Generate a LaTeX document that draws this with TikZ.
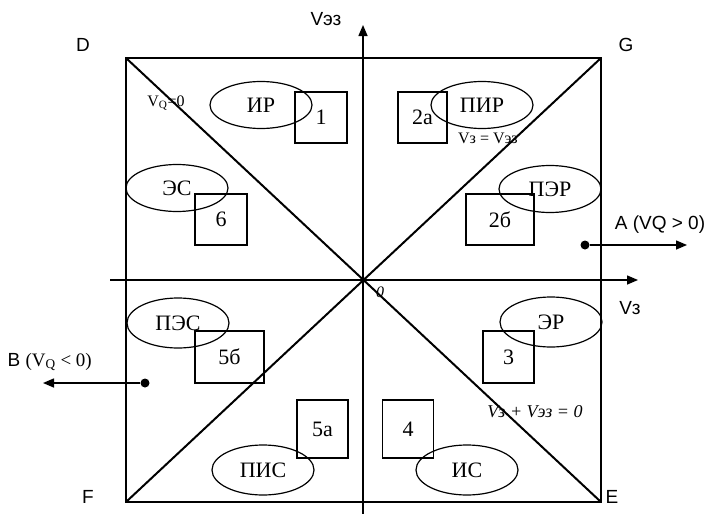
\documentclass[tikz,border=0pt]{standalone}
\usepackage{fontspec}
\setmainfont{Liberation Serif}
\newfontfamily\arialfont{Liberation Sans}
\usetikzlibrary{arrows.meta,shapes.geometric,positioning}

\begin{document}
\begin{tikzpicture}[x=1pt, y=-1pt,
  font=\fontsize{22}{24}\selectfont,
  zone/.style={draw, line width=1.2pt, ellipse, minimum width=102pt, minimum height=47pt, inner sep=0pt},
  numbox/.style={draw, line width=1.2pt, minimum width=51pt, minimum height=51pt, inner sep=0pt},
  lbl/.style={font=\arialfont\fontsize{19}{21}\selectfont, inner sep=1pt},
  eq/.style={font=\fontsize{16}{18}\selectfont, inner sep=1pt},
  arr/.style={-{Triangle[length=11pt, width=9pt]}, line width=1.5pt},
  dot/.style={circle, fill, inner sep=0pt, minimum size=9pt}
]
\useasboundingbox (0,0) rectangle (705,514);

% Квадрат и диагонали
\coordinate (cD) at (126,58);
\coordinate (cG) at (601,58);
\coordinate (cE) at (601,502);
\coordinate (cF) at (126,502);
\draw[line width=2pt] (cD) -- (cG) -- (cE) -- (cF) -- cycle;
\draw[line width=2pt] (cD) -- (cE);
\draw[line width=2pt] (cF) -- (cG);

\node[lbl] (lD) at (83,45) {D};
\node[lbl] (lG) at (626,45) {G};
\node[lbl] (lF) at (88,497) {F};
\node[lbl] (lE) at (612,497) {E};

% Оси
\coordinate (O) at (363,280);
\coordinate (yTop) at (363,25);
\coordinate (yBot) at (363,514);
\coordinate (xLeft) at (110,280);
\coordinate (xRight) at (638,280);
\draw[arr] (yBot) -- (yTop);
\draw[arr] (xLeft) -- (xRight);
\node[lbl] (vee) at (326,19) {Vэз};
\node[lbl] (vz) at (630,308) {Vз};
\node[eq, font=\itshape\fontsize{16}{18}\selectfont] (zero) at (380,292) {0};

% Линии и подписи
\node[eq] (vq0) at (166,103) {V\textsubscript{Q}=0};
\node[eq] (eq1) at (488,138) {Vз = Vэз};
\node[eq, font=\itshape\fontsize{18}{20}\selectfont] (eq2) at (535,412) {Vз + Vэз = 0};

% Зоны
\node[zone] (ir) at (261,105) {ИР};
\node[zone] (pir) at (482,105) {ПИР};
\node[zone] (es) at (177,188) {ЭС};
\node[zone] (per) at (550,189) {ПЭР};
\node[zone, minimum height=50pt] (pes) at (178,323) {ПЭС};
\node[zone, minimum height=50pt] (er) at (551,322) {ЭР};
\node[zone, minimum height=50pt] (pis) at (263,470) {ПИС};
\node[zone, minimum height=50pt] (is) at (467,470) {ИС};

% Номера
\node[numbox, minimum width=52pt] (b1) at (321,117.5) {1};
\node[numbox, minimum width=49pt] (b2a) at (422.5,117.5) {2а};
\node[numbox, minimum width=52pt] (b6) at (221,219.5) {6};
\node[numbox, minimum width=68pt] (b2b) at (500,219.5) {2б};
\node[numbox, minimum height=52pt] (b3) at (508.5,357) {3};
\node[numbox, minimum width=69pt, minimum height=52pt] (b5b) at (229.5,357) {5б};
\node[numbox, minimum height=58pt] (b5a) at (322.5,429) {5а};
\node[numbox, minimum height=58pt] (b4) at (408,429) {4};

% Точки A и B
\node[dot] (dA) at (585,245) {};
\coordinate (tA) at (687,245);
\draw[arr] (dA) -- (tA);
\node[lbl] (lA) at (660,225) {A (VQ > 0)};

\node[dot] (dB) at (145,383) {};
\coordinate (tB) at (43,383);
\draw[arr] (dB) -- (tB);
\node[lbl, anchor=east] (lB) at (93,362) {B {\rmfamily (V\textsubscript{Q} < 0)}};

\end{tikzpicture}
\end{document}
